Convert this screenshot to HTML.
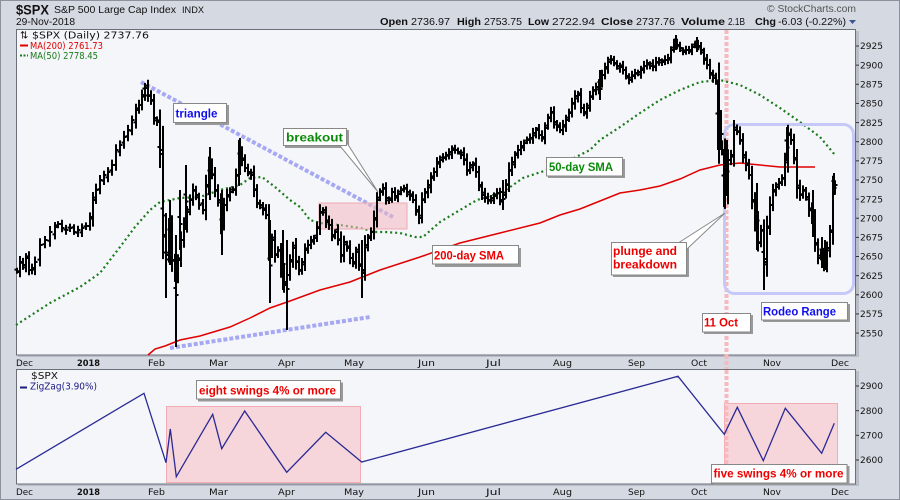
<!DOCTYPE html>
<html><head><meta charset="utf-8"><style>
html,body{margin:0;padding:0;background:#d5d9e2;}
svg{display:block;}
.t{font-family:"Liberation Sans",sans-serif;}
.d{font-family:"DejaVu Sans","Liberation Sans",sans-serif;}
.ax{font-family:"DejaVu Sans","Liberation Sans",sans-serif;font-size:9px;fill:#111;}
.an{font-family:"Liberation Sans",sans-serif;font-weight:bold;font-size:11.7px;}
</style></head><body>
<svg width="900" height="500" viewBox="0 0 900 500" xmlns="http://www.w3.org/2000/svg">
<rect x="0" y="0" width="900" height="500" fill="#d5d9e2"/>
<rect x="0.5" y="0.5" width="899" height="499" fill="none" stroke="#8c919b"/>
<!-- header -->
<text class="t" x="16" y="14.5" font-size="13.5" font-weight="bold" fill="#111" textLength="33" lengthAdjust="spacingAndGlyphs">$SPX</text>
<text class="t" x="54" y="13" font-size="10.5" fill="#111" textLength="122" lengthAdjust="spacingAndGlyphs">S&amp;P 500 Large Cap Index</text>
<text class="t" x="182" y="13" font-size="9.5" fill="#111" textLength="22" lengthAdjust="spacingAndGlyphs">INDX</text>
<text class="t" x="16" y="25" font-size="10.3" fill="#111" textLength="59" lengthAdjust="spacingAndGlyphs">29-Nov-2018</text>
<text class="t" x="767" y="12" font-size="10" fill="#555" textLength="89" lengthAdjust="spacingAndGlyphs">© StockCharts.com</text>
<g class="t" font-size="10.5" fill="#111">
<text x="380" y="25" font-weight="bold" textLength="28" lengthAdjust="spacingAndGlyphs">Open</text>
<text x="411" y="25" textLength="39" lengthAdjust="spacingAndGlyphs">2736.97</text>
<text x="457" y="25" font-weight="bold" textLength="24" lengthAdjust="spacingAndGlyphs">High</text>
<text x="484" y="25" textLength="38" lengthAdjust="spacingAndGlyphs">2753.75</text>
<text x="528" y="25" font-weight="bold" textLength="21" lengthAdjust="spacingAndGlyphs">Low</text>
<text x="552" y="25" textLength="43" lengthAdjust="spacingAndGlyphs">2722.94</text>
<text x="601" y="25" font-weight="bold" textLength="32" lengthAdjust="spacingAndGlyphs">Close</text>
<text x="636" y="25" textLength="39" lengthAdjust="spacingAndGlyphs">2737.76</text>
<text x="681" y="25" font-weight="bold" textLength="44" lengthAdjust="spacingAndGlyphs">Volume</text>
<text x="728" y="25" textLength="17" lengthAdjust="spacingAndGlyphs">2.1B</text>
<text x="755" y="25" font-weight="bold" textLength="21" lengthAdjust="spacingAndGlyphs">Chg</text>
<text x="778" y="25" textLength="68" lengthAdjust="spacingAndGlyphs">-6.03 (-0.22%)</text>
</g>
<polygon points="849,20 856,20 852.5,24" fill="#3a5590"/>

<!-- main plot -->
<rect x="856" y="31" width="3" height="326" fill="#b9bdc7"/>
<rect x="18" y="355" width="841" height="2" fill="#b9bdc7"/>
<rect x="16.5" y="29.5" width="839" height="325.5" fill="#f5f6fa" stroke="#6b6f78"/>
<!-- 11 Oct vertical dashed line (main panel, behind) -->
<line x1="726.5" y1="30" x2="726.5" y2="355" stroke="#f7b9bd" stroke-width="4" stroke-dasharray="4,2"/>
<!-- 200-day SMA -->
<polyline fill="none" stroke="#e00000" stroke-width="1.5" points="148,355 155,349 165,346 180,340 200,336 230,327 250,318 270,308 290,301 320,290 350,282 380,270 420,257 460,243 500,233 540,223 560,215 580,209 600,201 620,193 640,190 660,186 680,179 700,170 720,165 740,163 760,165 780,167 800,167 815,167"/>
<!-- 50-day SMA -->
<polyline fill="none" stroke="#1b7a1b" stroke-width="2.2" stroke-dasharray="2,3" points="16,325 50,303 80,287 100,273 120,247 135,227 150,210 160,202 180,198 200,197 220,190 240,185 250,178 262,177 275,187 290,200 300,207 310,220 320,223 340,225 360,228 375,232 385,232 400,233 415,237 423,237 440,222 460,210 477,200 503,192 523,178 547,170 570,160 590,150 600,140 620,127 640,113 660,100 680,90 700,82 720,80 740,85 760,95 780,108 800,122 820,137 835,155"/>
<!-- triangle lines -->
<line x1="141" y1="82" x2="393" y2="217" stroke="#a7a8f2" stroke-width="4" stroke-dasharray="4,2"/>
<line x1="170" y1="348" x2="370" y2="317" stroke="#a7a8f2" stroke-width="4" stroke-dasharray="4,2"/>
<!-- breakout rect -->
<rect x="319" y="203" width="88" height="26" fill="#f3b8c0" fill-opacity="0.55" stroke="#f1a9b3" stroke-width="1"/>
<!-- rodeo box -->
<rect x="724.5" y="124.5" width="129" height="169" rx="10" fill="none" stroke="#c6c9f7" stroke-width="3"/>
<!-- bars -->
<path id="bars" fill="none" stroke="#000" stroke-width="2" d=""/>
<!-- legend -->
<text class="d" x="20" y="38.5" font-size="10" fill="#111">⇅</text>
<text class="d" x="32" y="38.5" font-size="10" fill="#111" textLength="117" lengthAdjust="spacingAndGlyphs">$SPX (Daily) 2737.76</text>
<line x1="20" y1="45.5" x2="28" y2="45.5" stroke="#e00000" stroke-width="2"/>
<text class="d" x="30" y="49" font-size="10" fill="#e00000" textLength="73" lengthAdjust="spacingAndGlyphs">MA(200) 2761.73</text>
<line x1="20" y1="55.5" x2="28" y2="55.5" stroke="#1b7a1b" stroke-width="2" stroke-dasharray="2,1.5"/>
<text class="d" x="30" y="59" font-size="10" fill="#1b7a1b" textLength="68" lengthAdjust="spacingAndGlyphs">MA(50) 2778.45</text>

<!-- annotations -->
<rect x="175" y="105" width="54" height="20" fill="#999"/>
<rect x="173.5" y="103.5" width="53" height="19" fill="#fff" stroke="#888"/>
<text class="an" x="175.5" y="117.5" fill="#1010ee" textLength="42" lengthAdjust="spacingAndGlyphs">triangle</text>

<rect x="285" y="130" width="64" height="18" fill="#999"/>
<polygon points="340,146 347,143 378,192" fill="#fff" stroke="#888"/>
<rect x="283.5" y="128.5" width="63" height="17" fill="#fff" stroke="#888"/>
<text class="an" x="286" y="141.5" fill="#0a8a0a" textLength="57" lengthAdjust="spacingAndGlyphs">breakout</text>

<rect x="435" y="248" width="86" height="19" fill="#999"/>
<rect x="432.5" y="245.5" width="86" height="18.5" fill="#fff" stroke="#888"/>
<text class="an" x="434" y="259.5" fill="#ee0000" textLength="70" lengthAdjust="spacingAndGlyphs">200-day SMA</text>

<rect x="548" y="159" width="77" height="19" fill="#999"/>
<rect x="546.5" y="157.5" width="76" height="18.5" fill="#fff" stroke="#888"/>
<text class="an" x="549" y="171" fill="#0a8a0a" textLength="64" lengthAdjust="spacingAndGlyphs">50-day SMA</text>

<rect x="613" y="244" width="76" height="33" fill="#999"/>
<polygon points="679,242.5 687,249 725,213" fill="#fff" stroke="#888"/>
<rect x="611.5" y="242.5" width="75" height="32.5" fill="#fff" stroke="#888"/>
<text class="an" x="613" y="255" fill="#ee0000" textLength="64" lengthAdjust="spacingAndGlyphs">plunge and</text>
<text class="an" x="613" y="268.5" fill="#ee0000" textLength="64" lengthAdjust="spacingAndGlyphs">breakdown</text>

<rect x="704" y="315" width="49" height="19" fill="#999"/>
<rect x="702.5" y="313.5" width="48" height="18.5" fill="#fff" stroke="#888"/>
<text class="an" x="704" y="326.5" fill="#ee0000" textLength="34" lengthAdjust="spacingAndGlyphs">11 Oct</text>

<rect x="763" y="304" width="87" height="18" fill="#999"/>
<rect x="761.5" y="302.5" width="86" height="17.5" fill="#fff" stroke="#888"/>
<text class="an" x="763" y="315.5" fill="#1010ee" textLength="73" lengthAdjust="spacingAndGlyphs">Rodeo Range</text>

<!-- right axis main -->
<g id="axmain"></g>

<!-- gap dashed segment -->
<line x1="726.5" y1="355" x2="726.5" y2="370" stroke="#f7b9bd" stroke-width="4" stroke-dasharray="4,2"/>

<!-- date labels -->
<g class="ax">
<text x="16" y="366" textLength="17" lengthAdjust="spacingAndGlyphs">Dec</text>
<text x="77" y="366" font-weight="bold" textLength="23" lengthAdjust="spacingAndGlyphs">2018</text>
<text x="148" y="366" textLength="17" lengthAdjust="spacingAndGlyphs">Feb</text>
<text x="209" y="366" textLength="19" lengthAdjust="spacingAndGlyphs">Mar</text>
<text x="278" y="366" textLength="17" lengthAdjust="spacingAndGlyphs">Apr</text>
<text x="344" y="366" textLength="20" lengthAdjust="spacingAndGlyphs">May</text>
<text x="418" y="366" textLength="17" lengthAdjust="spacingAndGlyphs">Jun</text>
<text x="486" y="366" textLength="15" lengthAdjust="spacingAndGlyphs">Jul</text>
<text x="553" y="366" textLength="19" lengthAdjust="spacingAndGlyphs">Aug</text>
<text x="628" y="366" textLength="17" lengthAdjust="spacingAndGlyphs">Sep</text>
<text x="691" y="366" textLength="16" lengthAdjust="spacingAndGlyphs">Oct</text>
<text x="763" y="366" textLength="18" lengthAdjust="spacingAndGlyphs">Nov</text>
<text x="831" y="366" textLength="18" lengthAdjust="spacingAndGlyphs">Dec</text>

<text x="16" y="495" textLength="17" lengthAdjust="spacingAndGlyphs">Dec</text>
<text x="77" y="495" font-weight="bold" textLength="23" lengthAdjust="spacingAndGlyphs">2018</text>
<text x="148" y="495" textLength="17" lengthAdjust="spacingAndGlyphs">Feb</text>
<text x="209" y="495" textLength="19" lengthAdjust="spacingAndGlyphs">Mar</text>
<text x="278" y="495" textLength="17" lengthAdjust="spacingAndGlyphs">Apr</text>
<text x="344" y="495" textLength="20" lengthAdjust="spacingAndGlyphs">May</text>
<text x="418" y="495" textLength="17" lengthAdjust="spacingAndGlyphs">Jun</text>
<text x="486" y="495" textLength="15" lengthAdjust="spacingAndGlyphs">Jul</text>
<text x="553" y="495" textLength="19" lengthAdjust="spacingAndGlyphs">Aug</text>
<text x="628" y="495" textLength="17" lengthAdjust="spacingAndGlyphs">Sep</text>
<text x="691" y="495" textLength="16" lengthAdjust="spacingAndGlyphs">Oct</text>
<text x="763" y="495" textLength="18" lengthAdjust="spacingAndGlyphs">Nov</text>
<text x="831" y="495" textLength="18" lengthAdjust="spacingAndGlyphs">Dec</text>
</g>

<!-- lower panel -->
<rect x="856" y="371" width="3" height="115" fill="#b9bdc7"/>
<rect x="18" y="484" width="841" height="2" fill="#b9bdc7"/>
<rect x="16.5" y="369.5" width="839" height="114.5" fill="#f5f6fa" stroke="#6b6f78"/>
<rect x="166.5" y="406.5" width="194" height="76" fill="#f7d6db" stroke="#f4aab3"/>
<rect x="724.5" y="403.5" width="113" height="79" fill="#f7d6db" stroke="#f4aab3"/>
<!-- 11 Oct vertical dashed line (lower panel) -->
<line x1="726.5" y1="370" x2="726.5" y2="484" stroke="#f7b9bd" stroke-width="4" stroke-dasharray="4,2"/>
<polyline fill="none" stroke="#2a2a95" stroke-width="1.3" points="16,469.3 144,393.3 166,462.7 170.3,429 176.3,476.7 212.7,414.3 221.7,448.7 244.7,411 286.7,472.3 325.7,432.3 361.7,462 678,376.3 724.3,434.3 737.3,407.3 763.3,460.7 785.3,408.3 821.7,453.3 834.3,423.3"/>
<text class="d" x="31" y="379" font-size="10" fill="#111" textLength="27" lengthAdjust="spacingAndGlyphs">$SPX</text>
<line x1="20" y1="387.5" x2="27" y2="387.5" stroke="#1a1a80" stroke-width="2"/>
<text class="d" x="30" y="389.5" font-size="10" fill="#1a1a80" textLength="67" lengthAdjust="spacingAndGlyphs">ZigZag(3.90%)</text>

<rect x="198" y="382.5" width="145" height="19" fill="#999"/>
<rect x="196.5" y="380.5" width="144" height="18.5" fill="#fff" stroke="#888"/>
<text class="an" x="199" y="394.5" fill="#ee0000" textLength="137" lengthAdjust="spacingAndGlyphs">eight swings 4% or more</text>

<rect x="713.5" y="466" width="136" height="19" fill="#999"/>
<rect x="711.5" y="464.5" width="135.5" height="18.5" fill="#fff" stroke="#888"/>
<text class="an" x="713.5" y="477.5" fill="#ee0000" textLength="130" lengthAdjust="spacingAndGlyphs">five swings 4% or more</text>

<g class="ax">
<line x1="856" y1="386" x2="859" y2="386" stroke="#333"/><text x="860" y="389.2" textLength="23" lengthAdjust="spacingAndGlyphs">2900</text>
<line x1="856" y1="410.7" x2="859" y2="410.7" stroke="#333"/><text x="860" y="413.9" textLength="23" lengthAdjust="spacingAndGlyphs">2800</text>
<line x1="856" y1="435.3" x2="859" y2="435.3" stroke="#333"/><text x="860" y="438.5" textLength="23" lengthAdjust="spacingAndGlyphs">2700</text>
<line x1="856" y1="460" x2="859" y2="460" stroke="#333"/><text x="860" y="463.2" textLength="23" lengthAdjust="spacingAndGlyphs">2600</text>
</g>
</svg>
<script>
(function(){
var A=[[17,272],[20,262],[23,265],[26,258],[29,270],[32,268],[35,262],[40,245],[45,240],[50,232],[55,227],[58,224],[62,228],[66,230],[70,228],[74,232],[78,230],[82,228],[86,226],[90,217],[93,200],[96,190],[100,180],[104,175],[108,172],[112,165],[116,150],[120,145],[124,137],[128,130],[132,120],[136,110],[139,105],[142,95],[145,88],[148,96],[151,100],[154,118],[157,122],
[160,150],[163,235],[166,255],[169,228],[172,260],[175,275],[178,260],[181,240],[184,225],[187,212],[190,200],[193,190],[196,195],[199,205],[203,210],[206,185],[209,165],[212,175],[215,190],[218,200],[221,225],[224,205],[227,195],[230,192],[233,190],[236,175],[239,150],[242,160],[245,168],[248,172],[251,175],[254,190],[257,203],[260,205],[263,210],[266,215],[269,250],[272,240],[275,255],[278,250],[281,270],[284,285],[287,275],[290,260],[293,248],[296,262],[299,270],[302,262],[305,250],[308,245],[311,240],[314,238],[317,228],[320,212],[323,210],[326,222],[329,225],[332,235],[335,232],[338,240],[341,255],[344,242],[347,248],[350,258],[353,262],[356,252],[359,265],[362,270],[365,245],[368,238],[371,232],[374,218],[377,200],[380,192],[383,188],[386,198],[389,200],[392,192],[395,196],[398,194],[401,190],[404,188],[407,192],[410,196],[413,200],[416,210],[419,218],[422,200],[425,192],[428,185],[431,178],[434,172],[437,162],[440,160],[443,158],[446,155],[449,152],[452,150],[455,150],[458,152],[461,155],[464,160],[467,170],[470,165],[473,165],[476,172],[479,185],[482,195],[485,198],[488,200],[491,198],[494,196],[497,193],[500,200],[503,195],[506,185],[509,170],[512,162],[515,155],[518,150],[521,146],[524,143],[527,140],[530,138],[533,133],[536,130],[539,135],[542,137],[545,128],[548,118],[551,112],[554,122],[557,127],[560,130],[563,125],[566,120],[569,113],[572,103],[575,96],[578,95],[581,108],[584,112],[587,108],[590,97],[593,90],[596,87],[599,84],[602,75],[605,67],[608,62],[611,60],[614,63],[617,66],[620,67],[623,70],[626,76],[629,80],[632,76],[635,73],[638,72],[641,70],[644,66],[647,63],[650,66],[653,67],[656,62],[659,60],[662,62],[665,60],[668,58],[671,50],[674,44],[677,45],[680,48],[683,52],[686,50],[689,50],[692,47],[695,45],[698,46],[701,50],[704,60],[707,65],[710,73],[713,78],[716,82],[719,145],[722,150],[725,195],[728,160],[731,155],[734,130],[737,132],[740,140],[743,155],[746,165],[749,175],[752,200],[755,222],[758,243],[761,230],[764,262],[767,228],[770,205],[773,190],[776,187],[779,183],[782,178],[785,160],[788,135],[791,140],[794,158],[797,188],[800,195],[803,190],[806,197],[809,210],[812,218],[815,243],[818,258],[821,255],[824,265],[827,248],[830,232],[833,190],[835,185]];
var E=[[145,83,100],[160,132,168],[163,168,255],[166,213,298],[170,200,265],[176,235,347],[180,190,250],[186,165,230],[210,147,200],[240,138,175],[222,190,255],[270,220,303],[287,240,330],[283,230,290],[362,240,298],[718,83,150],[721,110,150],[724,150,207],[727,140,195],[757,183,250],[764,220,290],[787,127,160],[813,190,237],[822,237,268],[825,240,270],[834,173,195],[676,35,50],[697,37,52],[503,180,210],[600,70,100]];
var d='';
function f(v){return Math.round(v*10)/10;}
for(var i=0;i<A.length;i++){
 var x=A[i][0],c=A[i][1],p=i?A[i-1][1]:c;
 var o=p+(((i*37)%7)-3)*0.8;
 var r=3+4*Math.abs(Math.sin(i*2.3))+0.4*Math.abs(c-p);
 var hi=Math.min(o,c)-r*0.6, lo=Math.max(o,c)+r*0.6;
 d+='M'+x+' '+f(hi)+'V'+f(lo)+'M'+(x-2.5)+' '+f(o)+'H'+x+'M'+x+' '+f(c)+'H'+(x+2.5);
}
for(var j=0;j<E.length;j++){
 var e=E[j],m=(e[1]+e[2])/2;
 d+='M'+e[0]+' '+e[1]+'V'+e[2]+'M'+(e[0]-2.5)+' '+f(m-3)+'H'+e[0]+'M'+e[0]+' '+f(m+4)+'H'+(e[0]+2.5);
}
document.getElementById('bars').setAttribute('d',d);
var g=document.getElementById('axmain'),ns='http://www.w3.org/2000/svg';
for(var v=2925;v>=2550;v-=25){
 var y=46+(2925-v)*0.7655;
 var l=document.createElementNS(ns,'line');
 l.setAttribute('x1',856);l.setAttribute('x2',859);l.setAttribute('y1',y);l.setAttribute('y2',y);l.setAttribute('stroke','#333');
 g.appendChild(l);
 var t=document.createElementNS(ns,'text');
 t.setAttribute('x',860);t.setAttribute('y',y+3.2);t.setAttribute('class','ax');
 t.setAttribute('textLength',23);t.setAttribute('lengthAdjust','spacingAndGlyphs');
 t.textContent=String(v);
 g.appendChild(t);
}
})();
</script>
</body></html>
